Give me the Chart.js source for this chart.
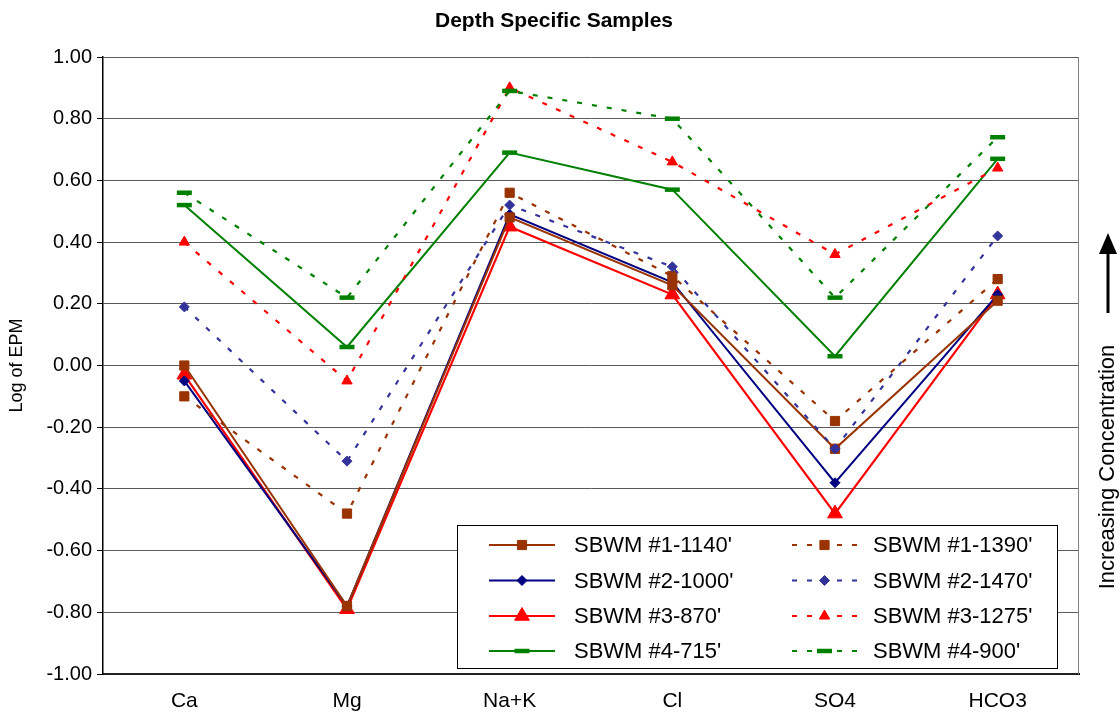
<!DOCTYPE html>
<html>
<head>
<meta charset="utf-8">
<title>Depth Specific Samples</title>
<script src="https://cdn.jsdelivr.net/npm/chart.js@4/dist/chart.umd.min.js"></script>
<style>
  html, body { margin: 0; padding: 0; background: #fff; }
  #wrap { width: 1120px; height: 715px; position: relative; }
</style>
</head>
<body>
<div id="wrap"><canvas id="chart" width="1120" height="715"></canvas></div>
<script>
// ---- data ----
const chartTitle = 'Depth Specific Samples';
const yAxisTitle = 'Log of EPM';
const sideNote = 'Increasing Concentration';
const categories = ['Ca', 'Mg', 'Na+K', 'Cl', 'SO4', 'HCO3'];
const yTickValues = [-1.0, -0.8, -0.6, -0.4, -0.2, 0.0, 0.2, 0.4, 0.6, 0.8, 1.0];

const seriesNames = [
  "SBWM #1-1140'", "SBWM #1-1390'",
  "SBWM #2-1000'", "SBWM #2-1470'",
  "SBWM #3-870'",  "SBWM #3-1275'",
  "SBWM #4-715'",  "SBWM #4-900'"
];
const sbwm1_1140 = [0.00, -0.78, 0.48, 0.26, -0.27, 0.21];
const sbwm1_1390 = [-0.10, -0.48, 0.56, 0.29, -0.18, 0.28];
const sbwm2_1000 = [-0.05, -0.78, 0.49, 0.27, -0.38, 0.23];
const sbwm2_1470 = [0.19, -0.31, 0.52, 0.32, -0.27, 0.42];
const sbwm3_870  = [-0.03, -0.79, 0.45, 0.23, -0.48, 0.23];
const sbwm3_1275 = [0.40, -0.05, 0.90, 0.66, 0.36, 0.64];
const sbwm4_715  = [0.52, 0.06, 0.69, 0.57, 0.03, 0.67];
const sbwm4_900  = [0.56, 0.22, 0.89, 0.80, 0.22, 0.74];

// ---- styles ----
const FONT = '"Liberation Sans", Arial, Helvetica, sans-serif';
const DOT = [5, 10];
const BROWN = '#993300', NAVY = '#000080', NAVY_LT = '#333399', RED = '#ff0000', GREEN = '#008000';

function series(label, data, color, dashed, style, radius, pbw, lw) {
  return {
    label, data,
    borderColor: color,
    backgroundColor: color,
    borderWidth: lw || 2,
    borderDash: dashed ? DOT : [],
    pointStyle: style,
    pointRadius: radius,
    pointHoverRadius: radius,
    pointBackgroundColor: color,
    pointBorderColor: color,
    pointBorderWidth: pbw,
    tension: 0,
    fill: false
  };
}

// drawing order: dotted series below, solid series on top
const datasets = [
  series(seriesNames[7], sbwm4_900,  GREEN,   true,  'line',     7.5, 4.5, 2.2),
  series(seriesNames[5], sbwm3_1275, RED,     true,  'triangle', 6,   1,   2.2),
  series(seriesNames[3], sbwm2_1470, NAVY_LT, true,  'rectRot',  5,   1,   2.2),
  series(seriesNames[1], sbwm1_1390, BROWN,   true,  'rect',     6.5, 1,   2.2),
  series(seriesNames[6], sbwm4_715,  GREEN,   false, 'line',     7.5, 4.5, 2),
  series(seriesNames[0], sbwm1_1140, BROWN,   false, 'rect',     6.5, 1,   2),
  series(seriesNames[2], sbwm2_1000, NAVY,    false, 'rectRot',  5,   1,   2),
  series(seriesNames[4], sbwm3_870,  RED,     false, 'triangle', 8.5, 1,   2.2)
];

// legend layout: two columns, shallower samples on the left, deeper on the right
const legendOrder = [
  [seriesNames[0], seriesNames[1]],
  [seriesNames[2], seriesNames[3]],
  [seriesNames[4], seriesNames[5]],
  [seriesNames[6], seriesNames[7]]
];

const decorPlugin = {
  id: 'decor',
  afterDraw(chart) {
    const { ctx, chartArea: a } = chart;
    const h = Chart.helpers;
    ctx.save();

    // plot-area right border
    ctx.strokeStyle = '#808080';
    ctx.lineWidth = 1;
    ctx.beginPath();
    ctx.moveTo(Math.round(a.right) - 0.5, a.top);
    ctx.lineTo(Math.round(a.right) - 0.5, a.bottom);
    ctx.stroke();

    // title
    ctx.fillStyle = '#000';
    ctx.font = 'bold 21px ' + FONT;
    ctx.textAlign = 'center';
    ctx.textBaseline = 'middle';
    ctx.fillText(chartTitle, 554, 21);

    // side note with upward arrow
    const ax = 1108;
    ctx.strokeStyle = '#000';
    ctx.lineWidth = 3;
    ctx.beginPath();
    ctx.moveTo(ax, 313);
    ctx.lineTo(ax, 250);
    ctx.stroke();
    ctx.beginPath();
    ctx.moveTo(ax, 233);
    ctx.lineTo(ax + 9, 254);
    ctx.lineTo(ax - 9, 254);
    ctx.closePath();
    ctx.fill();
    ctx.save();
    ctx.translate(ax, 467);
    ctx.rotate(-Math.PI / 2);
    ctx.font = '22px ' + FONT;
    ctx.fillText(sideNote, 0, 0);
    ctx.restore();

    // legend box
    const box = { x: 457.5, y: 525.5, w: 600, h: 143 };
    ctx.fillStyle = '#fff';
    ctx.fillRect(box.x, box.y, box.w, box.h);
    ctx.strokeStyle = '#000';
    ctx.lineWidth = 1;
    ctx.strokeRect(box.x, box.y, box.w, box.h);

    const rowY = [545, 580.5, 616, 651];
    const cols = [{ x0: 489, x1: 555, tx: 574 }, { x0: 792, x1: 857, tx: 873 }];
    ctx.font = '22px ' + FONT;
    ctx.textAlign = 'left';
    ctx.textBaseline = 'middle';
    legendOrder.forEach((row, r) => {
      row.forEach((name, c) => {
        const ds = chart.data.datasets.find(d => d.label === name);
        const col = cols[c];
        const y = rowY[r];
        ctx.save();
        ctx.strokeStyle = ds.borderColor;
        ctx.lineWidth = ds.borderWidth;
        ctx.setLineDash(ds.borderDash);
        ctx.beginPath();
        ctx.moveTo(col.x0, y);
        ctx.lineTo(col.x1, y);
        ctx.stroke();
        ctx.setLineDash([]);
        ctx.fillStyle = ds.pointBackgroundColor;
        ctx.strokeStyle = ds.pointBorderColor;
        ctx.lineWidth = ds.pointBorderWidth;
        h.drawPoint(ctx, {
          pointStyle: ds.pointStyle,
          radius: ds.pointRadius,
          borderWidth: ds.pointBorderWidth,
          rotation: 0
        }, (col.x0 + col.x1) / 2, y);
        ctx.restore();
        ctx.fillStyle = '#000';
        ctx.fillText(name, col.tx, y + 1);
      });
    });

    ctx.restore();
  }
};

new Chart(document.getElementById('chart'), {
  type: 'line',
  data: { labels: categories, datasets },
  plugins: [decorPlugin],
  options: {
    responsive: false,
    animation: false,
    devicePixelRatio: 1,
    layout: { padding: { left: 0, top: 57, right: 41, bottom: 0 } },
    plugins: {
      legend: { display: false },
      title: { display: false },
      tooltip: { enabled: false }
    },
    scales: {
      x: {
        type: 'category',
        offset: true,
        grid: { display: false, drawTicks: false },
        border: { display: true, color: '#222', width: 2 },
        ticks: { color: '#000', padding: 15, font: { family: FONT, size: 21 } },
        afterFit(scale) { scale.height = 41; }
      },
      y: {
        min: -1,
        max: 1,
        afterBuildTicks(scale) { scale.ticks = yTickValues.map(v => ({ value: v })); },
        ticks: {
          color: '#000',
          padding: 5,
          font: { family: FONT, size: 20 },
          callback: v => (Math.abs(v) < 1e-9 ? 0 : v).toFixed(2)
        },
        grid: { color: '#5a5a5a', lineWidth: 1, tickLength: 6, tickColor: '#000', drawTicks: true },
        border: { display: true, color: '#000', width: 1.5 },
        title: {
          display: true,
          text: yAxisTitle,
          color: '#000',
          font: { family: FONT, size: 18 },
          padding: { top: 6, bottom: 0 }
        },
        afterFit(scale) { scale.width = 103; }
      }
    }
  }
});
</script>
</body>
</html>
